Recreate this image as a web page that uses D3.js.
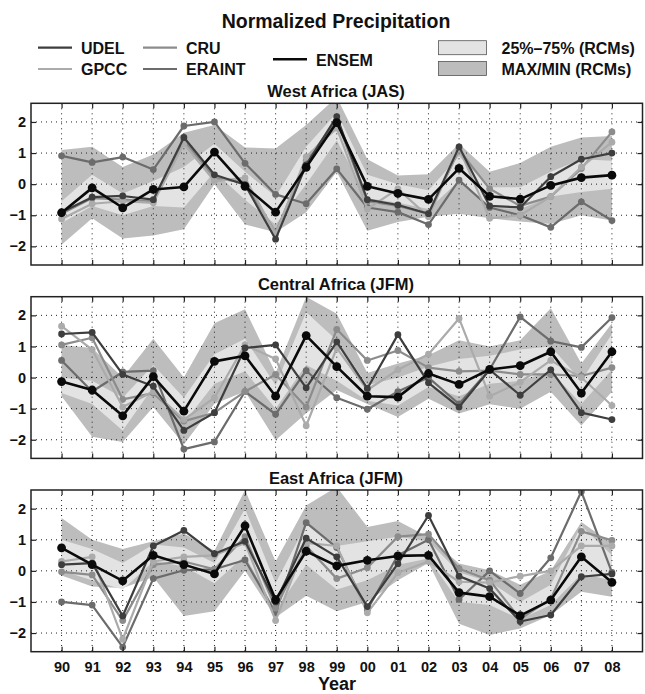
<!DOCTYPE html>
<html>
<head>
<meta charset="utf-8">
<script src="https://cdn.jsdelivr.net/npm/d3@7"></script>
<style>
  body { margin: 0; background: #fff; }
  text { font-family: "Liberation Sans", Arial, sans-serif; font-weight: bold; fill: #111; }
</style>
</head>
<body>
<svg id="chart" width="645" height="694"></svg>
<script>
const years = d3.range(1990, 2009);
const yearLabels = ["90","91","92","93","94","95","96","97","98","99",
                    "00","01","02","03","04","05","06","07","08"];
const yTicks = [-2, -1, 0, 1, 2];

// West Africa (JAS)
const westUDEL   = [-0.90,-0.42,-0.38,-0.50, 1.50, 0.30,-0.02,-1.77, 0.62, 2.17,-0.50,-0.67,-0.95, 1.20,-0.70,-0.75, 0.24, 0.80, 1.00];
const westGPCC   = [-1.12,-0.63,-0.55,-0.60, 1.30, 0.10, 0.20,-1.60, 0.88, 1.80,-0.80,-0.15,-1.05, 1.15,-1.10,-1.00,-0.40, 0.55, 1.35];
const westCRU    = [-0.95,-0.45,-0.50,-0.55, 1.40, 0.20, 0.05,-1.55, 0.75, 2.05,-0.55,-0.70,-0.95, 1.10,-0.15,-0.70,-0.40, 0.50, 1.68];
const westERAINT = [ 0.91, 0.70, 0.87, 0.47, 1.87, 2.00, 0.67,-0.33,-0.63, 0.49,-0.75,-0.90,-1.30, 0.13,-0.75,-1.00,-1.39,-0.57,-1.17];
const westENSEM  = [-0.92,-0.12,-0.76,-0.17,-0.09, 1.03,-0.07,-0.90, 0.54, 1.98,-0.07,-0.30,-0.49, 0.51,-0.39,-0.48,-0.04, 0.21, 0.29];
const westMax    = [ 1.10, 1.20, 0.55, 0.95, 1.65, 1.90, 1.18, 1.15, 1.90, 2.80, 0.80, 0.28, 0.32, 1.30, 0.40, 0.68, 1.20, 1.50, 1.55];
const westMin    = [-1.95,-1.10,-1.75,-1.65,-1.45, 0.00,-1.30,-1.55,-0.90, 0.40,-1.50,-1.22,-1.05,-0.95,-1.10,-1.20,-1.28,-1.00,-1.17];
const westQ75    = [-0.55, 0.30,-0.30, 0.10, 0.55, 1.30, 0.40,-0.40, 1.20, 2.30, 0.30, 0.00,-0.20, 0.90,-0.10,-0.10, 0.40, 0.80, 0.75];
const westQ25    = [-1.25,-0.70,-1.00,-0.70,-0.75, 0.40,-0.50,-1.30, 0.00, 1.40,-0.45,-0.60,-0.80, 0.10,-0.75,-0.80,-0.40,-0.25,-0.15];

// Central Africa (JFM)
const centUDEL   = [ 1.40, 1.45, 0.10,-0.28,-1.70,-1.13, 0.95, 1.05,-0.33, 1.15,-0.35, 1.38,-0.17,-0.95, 0.25,-0.57, 0.25,-1.13,-1.35];
const centGPCC   = [ 1.65, 0.90,-0.95,-0.45,-1.35,-0.65, 1.05, 0.60,-1.55, 0.95,-0.40, 0.25, 0.75, 1.90,-0.60,-0.15, 0.55, 0.00,-0.90];
const centCRU    = [ 1.05, 1.28,-0.70,-0.50,-1.40,-1.13,-0.45, 0.10,-0.95, 1.55, 0.55, 0.87, 0.32, 0.20, 0.22, 0.10, 0.10, 0.05, 0.32];
const centERAINT = [ 0.55,-0.45, 0.18, 0.22,-2.30,-2.07,-0.45,-1.18, 0.22,-0.65,-1.02,-0.45, 0.00,-0.85, 0.26, 1.95, 1.17, 0.97, 1.93];
const centENSEM  = [-0.13,-0.40,-1.23, 0.03,-1.08, 0.52, 0.70,-0.60, 1.35, 0.35,-0.60,-0.63, 0.13,-0.22, 0.26, 0.38, 0.83,-0.50, 0.83];
const centMax    = [ 1.05, 0.95, 0.00, 1.25, 0.00, 1.75, 2.20, 0.15, 2.60, 2.05, 0.15, 0.45, 0.72, 1.20, 1.00, 1.20, 2.23, 0.45, 1.75];
const centMin    = [-0.60,-1.90,-2.07,-0.95,-2.15,-0.84,-0.45,-2.02,-1.15,-0.40,-0.85,-1.27,-0.68,-1.16,-0.86,-1.00,-0.46,-1.54,-0.46];
const centQ75    = [ 0.00,-0.10,-0.65, 0.40,-0.65, 0.75, 1.25,-0.25, 2.10, 1.20,-0.25, 0.00, 0.35, 0.60, 0.70, 0.90, 1.00,-0.10, 1.40];
const centQ25    = [-0.50,-0.85,-1.70,-0.30,-1.45,-0.20, 0.20,-1.00, 0.40,-0.10,-0.75,-0.90,-0.30,-0.60,-0.20,-0.10, 0.20,-0.85, 0.25];

// East Africa (JFM)
const eastUDEL   = [ 0.20, 0.25,-1.45, 0.80, 1.30, 0.55, 0.95,-1.00, 1.05, 0.45,-1.15, 0.23, 1.78,-0.17,-0.57,-1.63,-1.42,-0.19,-0.10];
const eastGPCC   = [ 0.30, 0.45,-2.20, 0.30, 0.45, 0.50, 0.90,-1.60, 0.90, 0.80,-1.35,-0.06, 0.30,-0.35,-0.38,-0.17, 0.00, 0.80, 0.80];
const eastCRU    = [-0.03,-0.13,-1.60, 0.20, 0.30, 0.05, 1.10,-1.20, 0.80,-0.25, 0.10, 1.10, 1.18, 0.07,-0.30,-1.55,-0.90, 1.27, 0.98];
const eastERAINT = [-1.00,-1.10,-2.45,-0.25, 0.02, 0.05, 0.35,-1.35, 1.55, 0.75,-1.25, 0.50, 1.00,-0.92, 0.00,-0.73, 0.42, 2.55,-0.05];
const eastENSEM  = [ 0.74, 0.20,-0.32, 0.50, 0.20,-0.10, 1.45,-0.93, 0.63, 0.16, 0.34, 0.48, 0.50,-0.70,-0.83,-1.44,-0.94, 0.45,-0.37];
const eastMax    = [ 1.70, 1.00, 0.70, 0.95, 1.20, 0.65, 2.60, 0.30, 2.10, 2.70, 1.41, 1.60, 1.09, 0.24, 0.02,-0.45, 0.00, 1.57, 0.88];
const eastMin    = [-0.15,-0.50,-0.55,-0.20,-1.45,-1.30, 0.00,-1.50,-0.80,-1.30,-1.00,-0.30, 0.25,-1.70,-2.06,-1.85,-1.42,-0.67,-0.83];
const eastQ75    = [ 1.00, 0.70, 0.25, 0.85, 0.75, 0.25, 2.00,-0.40, 1.50, 0.80, 0.95, 1.10, 0.95,-0.05,-0.35,-1.00,-0.45, 1.45, 0.50];
const eastQ25    = [ 0.00,-0.30,-0.60, 0.30, 0.15,-0.40, 0.50,-1.30, 0.20,-0.60,-0.30, 0.20, 0.40,-1.00,-1.10,-1.55,-1.10,-0.10,-0.30];

const seriesColors = { UDEL: "#3e3e3e", GPCC: "#ababab", CRU: "#8c8c8c", ERAINT: "#6c6c6c", ENSEM: "#0a0a0a" };
const bandColors   = { q: "#e3e3e3", mm: "#bdbdbd" };

const panels = [
  { title: "West Africa (JAS)", top: 103.3,
    obs: { UDEL: westUDEL, GPCC: westGPCC, CRU: westCRU, ERAINT: westERAINT },
    ensem: westENSEM, max: westMax, min: westMin, q75: westQ75, q25: westQ25 },
  { title: "Central Africa (JFM)", top: 296.7,
    obs: { UDEL: centUDEL, GPCC: centGPCC, CRU: centCRU, ERAINT: centERAINT },
    ensem: centENSEM, max: centMax, min: centMin, q75: centQ75, q25: centQ25 },
  { title: "East Africa (JFM)", top: 490,
    obs: { UDEL: eastUDEL, GPCC: eastGPCC, CRU: eastCRU, ERAINT: eastERAINT },
    ensem: eastENSEM, max: eastMax, min: eastMin, q75: eastQ75, q25: eastQ25 }
];

const left = 31, right = 642.5, panelH = 161.7;
const svg = d3.select("#chart");

const x = d3.scaleLinear().domain([1989, 2009]).range([left, right]);
const minus = v => (v < 0 ? "\u2212" + Math.abs(v) : String(v));

// title
svg.append("text")
  .attr("x", 336).attr("y", 27.5)
  .attr("text-anchor", "middle")
  .style("font-size", "19.5px")
  .text("Normalized Precipitation");

// legend
const legLines = [
  { name: "UDEL",   x: 38,  y: 47.7 },
  { name: "CRU",    x: 143, y: 47.7 },
  { name: "GPCC",   x: 38,  y: 69 },
  { name: "ERAINT", x: 143, y: 69 },
  { name: "ENSEM",  x: 273, y: 59.3 }
];
legLines.forEach(d => {
  svg.append("line")
    .attr("x1", d.x).attr("x2", d.x + 34)
    .attr("y1", d.y).attr("y2", d.y)
    .attr("stroke", seriesColors[d.name])
    .attr("stroke-width", d.name === "ENSEM" ? 2.6 : 2.2);
  svg.append("text")
    .attr("x", d.x + 43).attr("y", d.y + 6.2)
    .style("font-size", "16px")
    .text(d.name);
});
[{ label: "25%\u201375% (RCMs)", fill: bandColors.q, y: 40.7 },
 { label: "MAX/MIN (RCMs)",     fill: bandColors.mm, y: 61.5 }].forEach(d => {
  svg.append("rect")
    .attr("x", 438.5).attr("y", d.y)
    .attr("width", 48).attr("height", 14)
    .attr("fill", d.fill)
    .attr("stroke", "#555").attr("stroke-width", 0.8);
  svg.append("text")
    .attr("x", 501.5).attr("y", d.y + 13.3)
    .style("font-size", "16px")
    .text(d.label);
});

panels.forEach((p, pi) => {
  const top = p.top, bottom = top + panelH;
  const y = d3.scaleLinear().domain([-2.6, 2.6]).range([bottom, top]);
  const g = svg.append("g");

  g.append("text")
    .attr("x", 336).attr("y", top - 6.5)
    .attr("text-anchor", "middle")
    .style("font-size", "16.5px")
    .text(p.title);

  const clipId = "clip" + pi;
  g.append("clipPath").attr("id", clipId)
    .append("rect")
    .attr("x", left).attr("y", top)
    .attr("width", right - left).attr("height", panelH);

  const plot = g.append("g").attr("clip-path", `url(#${clipId})`);

  const band = (hi, lo) => d3.area()
    .x((d, i) => x(years[i]))
    .y0((d, i) => y(lo[i]))
    .y1((d, i) => y(hi[i]));

  plot.append("path")
    .attr("d", band(p.max, p.min)(years))
    .attr("fill", bandColors.mm);
  plot.append("path")
    .attr("d", band(p.q75, p.q25)(years))
    .attr("fill", bandColors.q);

  // dotted grid
  plot.selectAll(".vg").data(years).join("line")
    .attr("x1", d => x(d)).attr("x2", d => x(d))
    .attr("y1", top).attr("y2", bottom)
    .attr("stroke", "#222").attr("stroke-width", 1)
    .attr("stroke-dasharray", "1,4");
  plot.selectAll(".hg").data(yTicks).join("line")
    .attr("x1", left).attr("x2", right)
    .attr("y1", d => y(d)).attr("y2", d => y(d))
    .attr("stroke", "#222").attr("stroke-width", 1)
    .attr("stroke-dasharray", "1,4");

  const line = d3.line()
    .x((d, i) => x(years[i]))
    .y(d => y(d));

  const drawSeries = (vals, color, w, r) => {
    plot.append("path")
      .attr("d", line(vals))
      .attr("fill", "none")
      .attr("stroke", color)
      .attr("stroke-width", w)
      .attr("stroke-linejoin", "round");
    plot.selectAll(null).data(vals).join("circle")
      .attr("cx", (d, i) => x(years[i]))
      .attr("cy", d => y(d))
      .attr("r", r)
      .attr("fill", color);
  };

  ["ERAINT", "CRU", "GPCC", "UDEL"].forEach(n =>
    drawSeries(p.obs[n], seriesColors[n], 2.2, 3.4));
  drawSeries(p.ensem, seriesColors.ENSEM, 2.6, 4.4);

  // axes with inward ticks
  const bottomAxis = d3.axisBottom(x).tickValues(years).tickSize(-5).tickPadding(10)
    .tickFormat((d, i) => pi === 2 ? yearLabels[i] : "");
  const topAxis = d3.axisTop(x).tickValues(years).tickSize(-5).tickFormat("");
  const leftAxis = d3.axisLeft(y).tickValues(yTicks).tickSize(-5).tickPadding(5).tickFormat(minus);
  const rightAxis = d3.axisRight(y).tickValues(yTicks).tickSize(-5).tickFormat("");

  [[bottomAxis, `translate(0,${bottom})`], [topAxis, `translate(0,${top})`],
   [leftAxis, `translate(${left},0)`], [rightAxis, `translate(${right},0)`]].forEach(([ax, tr]) => {
    const a = g.append("g").attr("transform", tr).call(ax);
    a.select(".domain").remove();
    a.selectAll(".tick line").attr("stroke", "#222").attr("stroke-width", 1.2);
    a.selectAll("text")
      .style("font-family", "'Liberation Sans', Arial, sans-serif")
      .style("font-weight", "bold")
      .style("font-size", "14.5px")
      .attr("fill", "#111");
  });

  g.append("rect")
    .attr("x", left).attr("y", top)
    .attr("width", right - left).attr("height", panelH)
    .attr("fill", "none")
    .attr("stroke", "#222").attr("stroke-width", 1.5);
});

svg.append("text")
  .attr("x", 337).attr("y", 689.5)
  .attr("text-anchor", "middle")
  .style("font-size", "18px")
  .text("Year");
</script>
</body>
</html>
